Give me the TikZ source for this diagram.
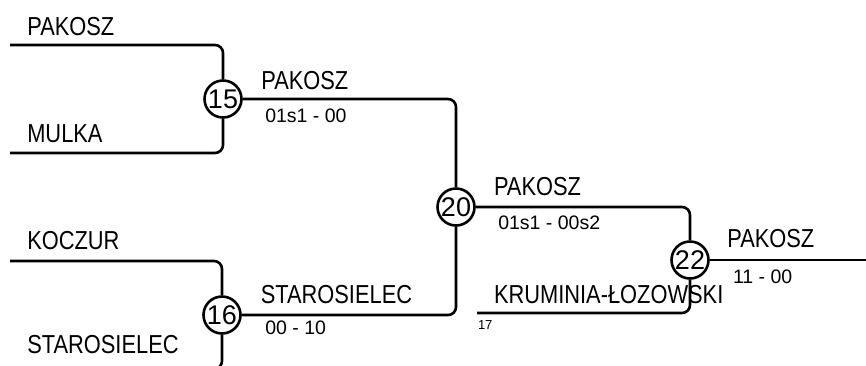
\documentclass[tikz,border=0pt]{standalone}
\usepackage{fontspec}
\setmainfont{Liberation Sans}
\newfontfamily\teamfont{Liberation Sans}[FakeStretch=0.84]
\usetikzlibrary{positioning}
\tikzset{
  every picture/.style={line width=2.6pt},
  match/.style={circle, draw, fill=white, minimum size=37pt, inner sep=0pt, font=\fontsize{27}{27}\selectfont},
  team/.style={anchor=base west, inner sep=0pt, font=\teamfont\fontsize{26}{26}\selectfont},
  score/.style={anchor=north west, inner sep=0pt, font=\fontsize{19.5}{19.5}\selectfont},
  seed/.style={anchor=north west, inner sep=0pt, font=\fontsize{13}{13}\selectfont},
  wire/.style={rounded corners=8pt},
}

\begin{document}
\begin{tikzpicture}[x=1pt, y=-1pt]
  \clip (0,0) rectangle (866,365);
  % matches
  \node[match] (m15) at (223,99) {15};
  \node[match] (m16) at (222,315) {16};
  \node[match] (m20) at (456,207) {20};
  \node[match] (m22) at (690,260) {22};
  % free ends
  \coordinate (a1) at (10,45);
  \coordinate (a2) at (10,153);
  \coordinate (a3) at (10,261);
  \coordinate (a4) at (10,369);
  \coordinate (k17) at (477,313);
  \coordinate (fin) at (870,260);
  % bracket
  \draw[wire] (a1) -| (m15.north);
  \draw[wire] (a2) -| (m15.south);
  \draw[wire] (a3) -| (m16.north);
  \draw[wire] (a4) -| (m16.south);
  \draw[wire] (m15.east) -| (m20.north);
  \draw[wire] (m16.east) -| (m20.south);
  \draw[wire] (m20.east) -| (m22.north);
  \draw[wire] (k17) -| (m22.south);
  \draw (m22.east) -- (fin);
  % teams
  \node[team] (t1) at (26,35) {PAKOSZ};
  \node[team] (t2) at (26,142) {MULKA};
  \node[team] (t3) at (26,249.5) {KOCZUR};
  \node[team] (t4) at (26,353.5) {STAROSIELEC};
  \node[team] (w15) at (260,89.3) {PAKOSZ};
  \node[team] (w16) at (259.5,303.3) {STAROSIELEC};
  \node[team] (w20) at (492.7,195.7) {PAKOSZ};
  \node[team] (t17) at (492.7,303.3) {KRUMINIA-ŁOZOWSKI};
  \node[team] (w22) at (726,247.3) {PAKOSZ};
  % scores
  \node[score] (s15) at (264,108) {01s1 - 00};
  \node[score] (s16) at (264,319.3) {00 - 10};
  \node[score] (s20) at (497,214.3) {01s1 - 00s2};
  \node[score] (s22) at (731.7,268.3) {11 - 00};
  \node[seed] (n17) at (476.7,319) {17};
\end{tikzpicture}
\end{document}
